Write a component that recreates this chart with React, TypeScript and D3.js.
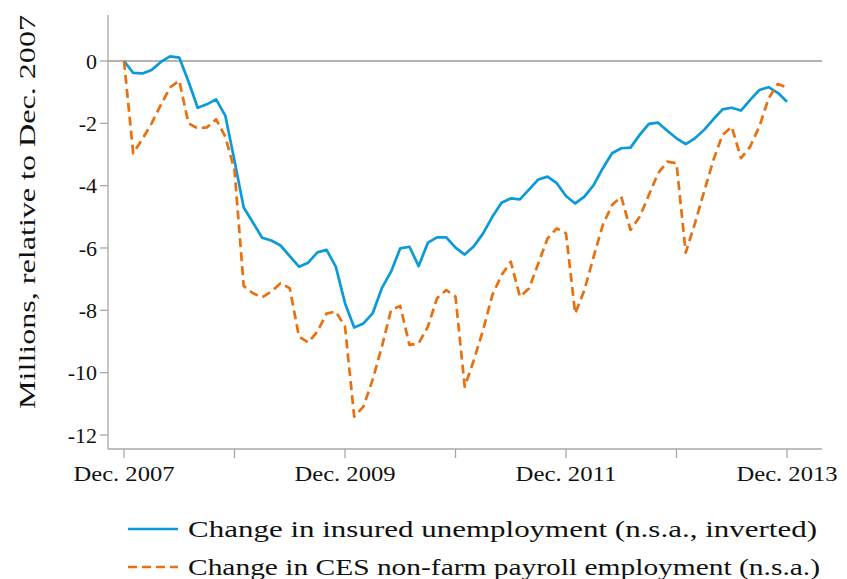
import React from "react";
import * as d3 from "d3";

const months: number[] = d3.range(0, 73);

const insuredUnemp: number[] = [
  0, -0.38, -0.4, -0.29, -0.03, 0.15, 0.11, -0.66, -1.5, -1.39, -1.23, -1.75,
  -3.2, -4.7, -5.18, -5.67, -5.76, -5.92, -6.26, -6.6, -6.47, -6.14, -6.06, -6.6,
  -7.77, -8.55, -8.42, -8.1, -7.29, -6.76, -6.01, -5.96, -6.58, -5.83, -5.66, -5.66,
  -5.99, -6.21, -5.94, -5.53, -5.0, -4.55, -4.41, -4.44, -4.12, -3.8, -3.71, -3.92,
  -4.33, -4.57, -4.35, -3.98, -3.44, -2.96, -2.8, -2.78, -2.37, -2.02, -1.98, -2.24,
  -2.48, -2.67, -2.48, -2.21, -1.87, -1.55, -1.5, -1.59, -1.25, -0.93, -0.84, -1.02,
  -1.31,
];

const cesPayroll: number[] = [
  0, -2.96, -2.5, -2.0, -1.41, -0.85, -0.63, -2.0, -2.16, -2.13, -1.87, -2.43,
  -3.5, -7.22, -7.45, -7.58, -7.4, -7.13, -7.29, -8.84, -9.03, -8.68, -8.1, -8.04,
  -8.52, -11.41, -11.09, -10.23, -9.17, -7.99, -7.86, -9.11, -9.06, -8.52, -7.61, -7.35,
  -7.56, -10.45, -9.59, -8.63, -7.51, -6.87, -6.44, -7.56, -7.29, -6.49, -5.69, -5.37,
  -5.53, -8.1, -7.35, -6.28, -5.26, -4.62, -4.35, -5.42, -5.0, -4.3, -3.6, -3.23,
  -3.28, -6.15, -5.21, -4.19, -3.18, -2.37, -2.11, -3.12, -2.75, -2.1, -1.2, -0.74,
  -0.85,
];

const yTicks: number[] = [0, -2, -4, -6, -8, -10, -12];
const xTickMonths: number[] = [0, 12, 24, 36, 48, 60, 72];
const xTickLabels: Record<number, string> = {
  0: "Dec. 2007",
  24: "Dec. 2009",
  48: "Dec. 2011",
  72: "Dec. 2013",
};
const seriesNames: string[] = [
  "Change in insured unemployment (n.s.a., inverted)",
  "Change in CES non-farm payroll employment (n.s.a.)",
];
const yLabel = "Millions, relative to Dec. 2007";

const BLUE = "#0a9ad8";
const ORANGE = "#e8700f";
const AXIS = "#a8a8a8";
const FONT = "'Liberation Serif', 'Times New Roman', serif";

export default function App() {
  const W = 847;
  const H = 579;
  const x = d3.scaleLinear().domain([0, 72]).range([124, 787]);
  const y = d3.scaleLinear().domain([0, -12]).range([61, 435]);
  const left = 108;
  const right = 822;
  const top = 15;
  const bottom = 449;

  const line = d3
    .line<number>()
    .x((_, i) => x(months[i]))
    .y((d) => y(d))
    .curve(d3.curveLinear);

  return (
    <svg
      width={W}
      height={H}
      style={{ position: "absolute", left: 0, top: 0, background: "#fff" }}
      fontFamily={FONT}
    >
      <rect width={W} height={H} fill="#fff" />
      <line x1={left} x2={left} y1={top} y2={bottom} stroke={AXIS} strokeWidth={1.3} />
      <line x1={left} x2={right} y1={bottom} y2={bottom} stroke={AXIS} strokeWidth={1.3} />
      <line x1={left} x2={right} y1={y(0)} y2={y(0)} stroke="#9a9a9a" strokeWidth={1.5} />
      {yTicks.map((t) => (
        <g key={"y" + t}>
          <line x1={left - 8} x2={left} y1={y(t)} y2={y(t)} stroke={AXIS} strokeWidth={1.3} />
          <text x={97} y={y(t)} dy="0.35em" textAnchor="end" fontSize={22} fill="#111">
            {String(t)}
          </text>
        </g>
      ))}
      {xTickMonths.map((m) => (
        <g key={"x" + m}>
          <line x1={x(m)} x2={x(m)} y1={bottom} y2={bottom + 9} stroke={AXIS} strokeWidth={1.3} />
          {xTickLabels[m] ? (
            <text
              x={x(m)}
              y={481}
              textAnchor="middle"
              fontSize={22}
              fill="#111"
              textLength={101}
              lengthAdjust="spacingAndGlyphs"
            >
              {xTickLabels[m]}
            </text>
          ) : null}
        </g>
      ))}
      <text
        transform={`translate(35, 212) rotate(-90)`}
        textAnchor="middle"
        fontSize={23}
        fill="#111"
        textLength={394}
        lengthAdjust="spacingAndGlyphs"
      >
        {yLabel}
      </text>
      <path d={line(insuredUnemp) || ""} fill="none" stroke={BLUE} strokeWidth={2.7} strokeLinejoin="round" />
      <path
        d={line(cesPayroll) || ""}
        fill="none"
        stroke={ORANGE}
        strokeWidth={2.7}
        strokeDasharray="9,5"
        strokeLinejoin="round"
      />
      <g>
        <line x1={128} x2={178} y1={529} y2={529} stroke={BLUE} strokeWidth={2.7} />
        <text x={188} y={537} fontSize={23} fill="#111" textLength={629} lengthAdjust="spacingAndGlyphs">
          {seriesNames[0]}
        </text>
        <line x1={128} x2={178} y1={567} y2={567} stroke={ORANGE} strokeWidth={2.7} strokeDasharray="9,5" />
        <text x={188} y={575} fontSize={23} fill="#111" textLength={632} lengthAdjust="spacingAndGlyphs">
          {seriesNames[1]}
        </text>
      </g>
    </svg>
  );
}
